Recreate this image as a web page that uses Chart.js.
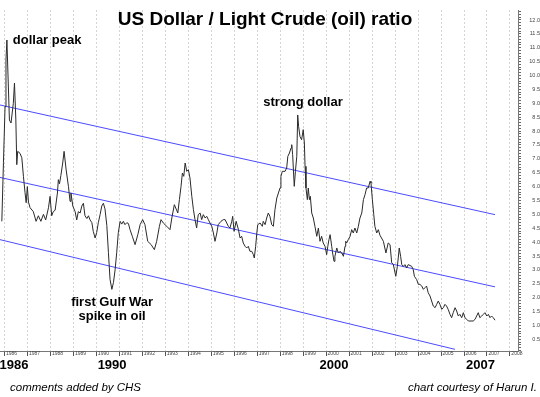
<!DOCTYPE html>
<html>
<head>
<meta charset="utf-8">
<script src="https://cdn.jsdelivr.net/npm/chart.js@4.4.1/dist/chart.umd.min.js"></script>
<style>
  html, body { margin: 0; padding: 0; background: #fff; overflow: hidden; }
  canvas { display: block; }
</style>
</head>
<body>
<canvas id="ratioChart" width="540" height="397"></canvas>
<script>
// US Dollar / Light Crude ratio (decimal years)
const years = [
  1985.88, 1985.95, 1986.02, 1986.06, 1986.10, 1986.21, 1986.28, 1986.38, 1986.43, 1986.49,
  1986.53, 1986.57, 1986.67, 1986.75, 1986.82, 1986.89, 1986.94, 1986.99, 1987.04, 1987.11,
  1987.25, 1987.37, 1987.47, 1987.58, 1987.69, 1987.79, 1987.91, 1987.98, 1988.05, 1988.12,
  1988.20, 1988.30, 1988.34, 1988.39, 1988.45, 1988.53, 1988.59, 1988.68, 1988.78, 1988.85,
  1988.89, 1988.97, 1989.07, 1989.14, 1989.21, 1989.29, 1989.36, 1989.43, 1989.50, 1989.58,
  1989.65, 1989.72, 1989.80, 1989.86, 1989.94, 1990.01, 1990.08, 1990.16, 1990.23, 1990.30,
  1990.37, 1990.45, 1990.52, 1990.59, 1990.67, 1990.74, 1990.81, 1990.88, 1990.95, 1991.03,
  1991.10, 1991.17, 1991.24, 1991.32, 1991.39, 1991.46, 1991.56, 1991.68, 1991.80, 1991.90,
  1992.01, 1992.11, 1992.23, 1992.38, 1992.52, 1992.62, 1992.74, 1992.81, 1992.91, 1993.06,
  1993.20, 1993.28, 1993.39, 1993.45, 1993.54, 1993.61, 1993.68, 1993.74, 1993.80, 1993.86,
  1993.93, 1994.00, 1994.07, 1994.15, 1994.22, 1994.29, 1994.36, 1994.43, 1994.51, 1994.58,
  1994.65, 1994.73, 1994.80, 1994.87, 1994.94, 1995.02, 1995.09, 1995.16, 1995.24, 1995.30,
  1995.42, 1995.52, 1995.60, 1995.67, 1995.74, 1995.81, 1995.89, 1995.93, 1995.99, 1996.08,
  1996.18, 1996.25, 1996.32, 1996.39, 1996.47, 1996.54, 1996.61, 1996.68, 1996.76, 1996.83,
  1996.87, 1996.93, 1996.98, 1997.02, 1997.12, 1997.22, 1997.26, 1997.34, 1997.41, 1997.48,
  1997.55, 1997.63, 1997.70, 1997.77, 1997.85, 1997.92, 1997.99, 1998.03, 1998.09, 1998.21,
  1998.28, 1998.33, 1998.40, 1998.47, 1998.50, 1998.54, 1998.61, 1998.66, 1998.72, 1998.76,
  1998.80, 1998.86, 1998.93, 1999.00, 1999.05, 1999.08, 1999.12, 1999.18, 1999.22, 1999.27,
  1999.31, 1999.37, 1999.44, 1999.51, 1999.59, 1999.66, 1999.73, 1999.80, 1999.87, 1999.95,
  2000.02, 2000.07, 2000.12, 2000.17, 2000.24, 2000.28, 2000.34, 2000.38, 2000.46, 2000.53,
  2000.60, 2000.68, 2000.75, 2000.82, 2000.85, 2000.89, 2000.96, 2001.04, 2001.11, 2001.18,
  2001.25, 2001.33, 2001.40, 2001.47, 2001.55, 2001.62, 2001.69, 2001.76, 2001.83, 2001.91,
  2001.95, 2002.01, 2002.07, 2002.12, 2002.20, 2002.27, 2002.34, 2002.49, 2002.60, 2002.70,
  2002.78, 2002.85, 2002.92, 2003.03, 2003.10, 2003.18, 2003.24, 2003.29, 2003.36, 2003.43,
  2003.50, 2003.57, 2003.72, 2003.79, 2003.84, 2003.94, 2004.01, 2004.08, 2004.16, 2004.23,
  2004.30, 2004.37, 2004.44, 2004.52, 2004.59, 2004.66, 2004.74, 2004.81, 2004.88, 2004.95,
  2005.03, 2005.10, 2005.17, 2005.24, 2005.31, 2005.39, 2005.46, 2005.53, 2005.61, 2005.68,
  2005.75, 2005.82, 2005.90, 2005.97, 2006.04, 2006.12, 2006.19, 2006.26, 2006.40, 2006.48,
  2006.55, 2006.62, 2006.69, 2006.77, 2006.84, 2006.91, 2006.99, 2007.06, 2007.13, 2007.20,
  2007.27, 2007.35
];
const ratio = [
  4.75, 6.86, 8.88, 10.56, 11.28, 8.40, 8.29, 9.00, 9.73, 8.40,
  6.79, 7.27, 7.20, 7.04, 6.37, 5.78, 5.42, 6.00, 5.44, 5.24,
  5.10, 4.75, 4.95, 4.75, 5.00, 4.80, 5.24, 5.65, 4.95, 5.10,
  5.15, 5.77, 6.25, 6.10, 6.40, 6.85, 7.27, 6.60, 6.00, 5.47,
  5.77, 5.30, 5.10, 4.80, 5.10, 5.05, 5.30, 5.40, 4.95, 4.85,
  4.95, 4.80, 4.70, 4.39, 4.15, 4.35, 4.70, 5.00, 5.30, 5.40,
  5.20, 4.60, 3.62, 2.66, 2.30, 2.55, 3.00, 3.62, 4.34, 4.75,
  4.65, 4.75, 4.63, 4.70, 4.67, 4.45, 4.21, 3.91, 4.27, 4.63,
  4.81, 4.63, 4.03, 3.91, 3.73, 4.03, 4.57, 4.81, 4.69, 4.57,
  4.45, 4.87, 5.35, 5.23, 5.05, 5.53, 6.00, 6.49, 6.37, 6.85,
  6.55, 6.61, 6.31, 5.65, 5.17, 4.81, 4.51, 4.99, 5.05, 4.81,
  4.99, 4.87, 4.93, 4.81, 4.69, 4.57, 4.33, 4.03, 4.33, 4.63,
  4.75, 4.81, 4.81, 4.69, 4.57, 4.51, 4.75, 4.93, 4.39, 4.75,
  4.45, 4.15, 4.21, 3.97, 3.85, 3.79, 3.85, 3.67, 3.67, 3.55,
  3.43, 3.85, 4.33, 4.63, 4.69, 4.57, 4.75, 4.63, 4.87, 5.05,
  4.93, 4.63, 4.57, 5.17, 5.59, 5.77, 5.95, 6.37, 6.55, 6.55,
  6.67, 7.09, 7.21, 7.39, 7.51, 7.15, 6.01, 6.55, 7.09, 8.58,
  8.16, 7.80, 7.69, 8.05, 7.57, 6.73, 5.95, 5.53, 5.95, 5.53,
  5.65, 5.05, 4.87, 4.57, 4.21, 4.51, 4.03, 4.21, 3.97, 3.85,
  3.55, 3.85, 4.09, 4.27, 3.85, 3.61, 3.31, 3.49, 3.79, 3.61,
  3.67, 3.61, 3.49, 3.85, 4.03, 3.97, 4.09, 4.21, 4.45, 4.33,
  4.51, 4.33, 4.57, 4.87, 5.05, 5.53, 5.71, 5.95, 5.95, 6.19,
  6.13, 5.53, 5.00, 4.57, 4.33, 4.45, 4.25, 4.03, 3.61, 3.97,
  3.91, 3.26, 3.20, 2.77, 3.13, 3.79, 3.49, 3.19, 3.13, 3.19,
  3.07, 3.19, 3.13, 3.01, 2.77, 2.65, 2.48, 2.48, 2.42, 2.30,
  2.36, 2.42, 2.18, 2.06, 1.88, 1.70, 1.64, 1.76, 1.88, 1.76,
  1.58, 1.64, 1.76, 1.70, 1.58, 1.40, 1.28, 1.46, 1.64, 1.52,
  1.34, 1.40, 1.28, 1.46, 1.28, 1.22, 1.16, 1.16, 1.16, 1.22,
  1.34, 1.46, 1.28, 1.34, 1.40, 1.46, 1.34, 1.40, 1.28, 1.34,
  1.28, 1.19
];

// trend channel (start / end of each blue line)
const upperYears = [1985.80, 2007.35];
const upperValues = [8.94, 4.99];
const middleYears = [1985.80, 2007.35];
const middleValues = [6.33, 2.39];
const lowerYears = [1985.80, 2005.61];
const lowerValues = [4.09, 0.14];

// axis ranges
const xMin = 1985.80, xMax = 2008.35;
const yMin = 0.08, yMax = 12.36;

// comments on the chart
const noteText = ["dollar peak", "strong dollar", "first Gulf War", "spike in oil"];
const noteYears = [1987.85, 1998.99, 1990.68, 1990.68];
const noteValues = [11.14, 8.92, 1.70, 1.19];

const yearMarks = ["1986", "1990", "2000", "2007"];
const yearMarkAt = [1986.41, 1990.68, 2000.34, 2006.72];

const FONT = "'Liberation Sans', Arial, Helvetica, sans-serif";

function toPoints(xs, ys) {
    return xs.map((x, i) => ({ x: x, y: ys[i] }));
}

const textPlugin = {
    id: "chartText",
    afterDraw(chart) {
        const ctx = chart.ctx;
        const xs = chart.scales.x;
        const ys = chart.scales.y;

        ctx.save();
        ctx.fillStyle = "#000";
        ctx.textBaseline = "alphabetic";

        // title
        ctx.textAlign = "center";
        ctx.font = "bold 19px " + FONT;
        ctx.fillText("US Dollar / Light Crude (oil) ratio", 265, 25);

        // notes
        ctx.font = "bold 13px " + FONT;
        for (let i = 0; i < noteText.length; i++) {
            ctx.fillText(noteText[i], xs.getPixelForValue(noteYears[i]), ys.getPixelForValue(noteValues[i]));
        }

        // big year marks under the axis
        ctx.font = "bold 13px " + FONT;
        for (let i = 0; i < yearMarks.length; i++) {
            ctx.fillText(yearMarks[i], xs.getPixelForValue(yearMarkAt[i]), 369);
        }

        ctx.font = "italic 11.5px " + FONT;
        ctx.textAlign = "left";
        ctx.fillText("comments added by CHS", 10, 391);
        ctx.textAlign = "right";
        ctx.fillText("chart courtesy of Harun I.", 537, 391);
        ctx.restore();
    }
};

const ctx = document.getElementById("ratioChart").getContext("2d");

new Chart(ctx, {
    type: "line",
    data: {
        datasets: [
            {
                data: toPoints(years, ratio),
                borderColor: "#2a2a2a",
                borderWidth: 1,
                pointRadius: 0,
                tension: 0
            },
            {
                data: toPoints(upperYears, upperValues),
                borderColor: "#4b4bff",
                borderWidth: 1,
                pointRadius: 0
            },
            {
                data: toPoints(middleYears, middleValues),
                borderColor: "#4b4bff",
                borderWidth: 1,
                pointRadius: 0
            },
            {
                data: toPoints(lowerYears, lowerValues),
                borderColor: "#4b4bff",
                borderWidth: 1,
                pointRadius: 0
            }
        ]
    },
    options: {
        responsive: false,
        animation: false,
        layout: { padding: { top: 10, left: 0, right: 0, bottom: 0 } },
        plugins: {
            legend: { display: false },
            tooltip: { enabled: false }
        },
        scales: {
            x: {
                type: "linear",
                min: xMin,
                max: xMax,
                afterFit: (scale) => { scale.height = 46; },
                border: { display: true, color: "#777", width: 1, dash: [2, 2] },
                grid: {
                    color: "#d4d4d4",
                    tickColor: "#555",
                    tickLength: 5,
                    tickBorderDash: []
                },
                ticks: {
                    stepSize: 1,
                    includeBounds: false,
                    autoSkip: false,
                    maxRotation: 0,
                    align: "start",
                    padding: -5,
                    color: "#444",
                    font: { family: FONT, size: 5 },
                    callback: (v) => " " + v
                }
            },
            y: {
                type: "linear",
                position: "right",
                min: yMin,
                max: yMax,
                afterFit: (scale) => { scale.width = 22; },
                border: { display: true, color: "#777", width: 1 },
                grid: {
                    drawOnChartArea: false,
                    tickColor: "#666",
                    tickLength: 3
                },
                ticks: {
                    stepSize: 0.1,
                    includeBounds: false,
                    autoSkip: false,
                    crossAlign: "far",
                    padding: 3,
                    color: "#444",
                    font: { family: FONT, size: 5.5 },
                    callback: (v) => {
                        const h = v * 2;
                        return Math.abs(h - Math.round(h)) < 1e-6 ? v.toFixed(1) : "";
                    }
                }
            }
        }
    },
    plugins: [textPlugin]
});
</script>
</body>
</html>
